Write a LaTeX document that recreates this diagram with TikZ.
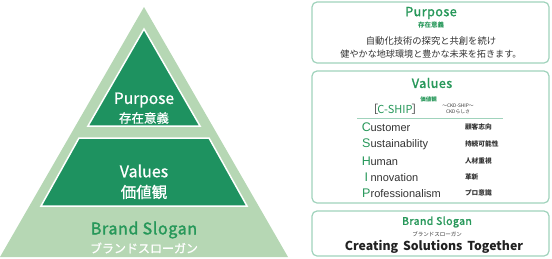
\documentclass[tikz,border=0pt]{standalone}
\usepackage{fontspec}
\setmainfont{Noto Sans CJK JP}
\newfontfamily\jpf{Noto Sans CJK JP}
\newfontfamily\jpm{Noto Sans CJK JP}[FakeBold=0.9]
\newfontfamily\jpt{Noto Sans CJK JP}[FakeBold=1.8,LetterSpace=4]
\newfontfamily\arf{Liberation Sans}
\definecolor{pale}{HTML}{B6D7B4}
\definecolor{dgreen}{HTML}{1E9260}
\definecolor{tgreen}{HTML}{27985A}
\definecolor{mint}{HTML}{A0D3BC}
\definecolor{txt}{HTML}{333333}
\newcommand{\fsz}[1]{\fontsize{#1}{#1}\selectfont}
\newcommand{\ini}[1]{\makebox[8.6pt][c]{\textcolor{tgreen}{\fsz{12.5}#1}}}
\begin{document}
\begin{tikzpicture}[x=1pt,y=-1pt,
  every node/.style={inner sep=0pt,outer sep=0pt},
  inner/.style={fill=dgreen,draw=white,line width=1.5pt,line join=miter},
  card/.style={draw=mint,line width=1.2pt,rounded corners=5pt,fill=white},
  lst/.style={anchor=west,font=\arf\fsz{11},text=txt},
  lsj/.style={anchor=west,font=\jpf\bfseries\fsz{6.7},text=txt}]
\useasboundingbox (0,0) rectangle (552,258);
% pyramid
\fill[pale] (144,7) -- (288,257) -- (0,257) -- cycle;
\draw[inner] (144,29) -- (200,126) -- (88,126) -- cycle;
\draw[inner] (79,138) -- (209,138) -- (247,206) -- (41,206) -- cycle;
\node[font=\jpm\fsz{15.5},text=white] (pp) at (144,100) {Purpose};
\node[font=\jpm\fsz{12.5},text=white] (ppj) at (144,118) {存在意義};
\node[font=\jpm\fsz{16},text=white] (vv) at (144,171) {Values};
\node[font=\jpm\fsz{15.5},text=white] (vvj) at (144,192) {価値観};
\node[font=\jpt\fsz{16},text=tgreen] (bs) at (144,230) {Brand Slogan};
\node[font=\jpm\fsz{12},text=white] (bsj) at (144,248) {ブランドスローガン};
% cards
\draw[card] (312,2) rectangle (549,63);
\draw[card] (312,71) rectangle (549,203);
\draw[card] (312,211) rectangle (549,256);
% purpose card
\node[font=\jpt\fsz{12.5},text=tgreen] (rpt) at (431,13) {Purpose};
\node[font=\jpf\bfseries\fsz{6.5},text=tgreen] (rptj) at (431,25.5) {存在意義};
\node[font=\jpf\fsz{9.3},text=txt] (rp1) at (431,41) {自動化技術の探究と共創を続け};
\node[font=\jpf\fsz{9.1},text=txt] (rp2) at (431,54.5) {健やかな地球環境と豊かな未来を拓きます。};
% values card
\node[font=\jpt\fsz{12.5},text=tgreen] (rvt) at (432,83) {Values};
\node[font=\jpf\bfseries\fsz{5.5},text=tgreen] (rvj) at (428.5,99.5) {価値観};
\node[font=\jpf\fsz{11},text=txt] (csh) at (395,109) {［\kern-0.8pt\textcolor{tgreen}{C-SHIP}\kern-0.8pt］};
\node[font=\jpf\fsz{4.8},text=txt] (ckd) at (458,105.5) {～CKD-SHIP～};
\node[font=\jpf\fsz{4.8},text=txt] (ckdj) at (458,111.5) {CKDらしさ};
\coordinate (la) at (357,118);
\coordinate (lb) at (503,118);
\draw[mint,line width=1pt] (la) -- (lb);
\node[lst] (c1) at (362,127) {\ini{C}ustomer};
\node[lst] (c2) at (362,144) {\ini{S}ustainability};
\node[lst] (c3) at (362,161) {\ini{H}uman};
\node[lst] (c4) at (362,177) {\ini{I}nnovation};
\node[lst] (c5) at (362,193) {\ini{P}rofessionalism};
\node[lsj] (j1) at (465,127) {顧客志向};
\node[lsj] (j2) at (465,144) {持続可能性};
\node[lsj] (j3) at (465,161) {人材重視};
\node[lsj] (j4) at (465,177) {革新};
\node[lsj] (j5) at (465,193) {プロ意識};
% brand card
\node[font=\jpt\fsz{10.5},text=tgreen] (rbt) at (437,222) {Brand Slogan};
\node[font=\jpf\fsz{5.5},text=txt] (rbj) at (437,234) {ブランドスローガン};
\node[font=\jpf\bfseries\fsz{12.3},text=black!87] (rbs) at (434,247) {Creating\, Solutions\, Together};
\end{tikzpicture}
\end{document}
